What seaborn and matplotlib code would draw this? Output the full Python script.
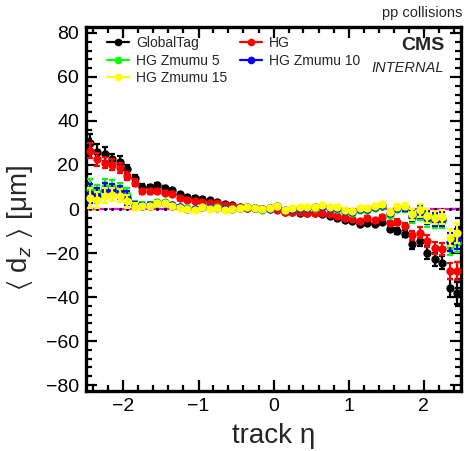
import numpy as np
import pandas as pd
import matplotlib
matplotlib.use("Agg")
import matplotlib.pyplot as plt
from matplotlib.lines import Line2D
from matplotlib.ticker import MultipleLocator
import seaborn as sns

# Track pseudorapidity bin centres
eta = [-2.45, -2.35, -2.25, -2.15, -2.05, -1.95, -1.85, -1.75, -1.65, -1.55,
       -1.45, -1.35, -1.25, -1.15, -1.05, -0.95, -0.85, -0.75, -0.65, -0.55,
       -0.45, -0.35, -0.25, -0.15, -0.05, 0.05, 0.15, 0.25, 0.35, 0.45,
       0.55, 0.65, 0.75, 0.85, 0.95, 1.05, 1.15, 1.25, 1.35, 1.45,
       1.55, 1.65, 1.75, 1.85, 1.95, 2.05, 2.15, 2.25, 2.35, 2.45]

# Mean longitudinal impact parameter <d_z> [um] per geometry
dz_globaltag = [30.0, 26.0, 25.0, 22.5, 21.5, 18.0, 14.0, 10.0, 10.0, 11.0,
                9.5, 8.5, 6.7, 5.5, 5.2, 4.4, 3.9, 3.3, 2.4, 1.8,
                0.9, 0.6, 0.4, 0.2, 0.3, -0.2, -1.5, -1.5, -1.8, -2.0,
                -2.0, -2.3, -3.0, -4.0, -5.0, -5.5, -6.6, -6.2, -6.7, -5.8,
                -9.2, -10.0, -11.2, -16.0, -14.5, -19.8, -22.9, -24.4, -35.8, -38.0]
dz_hg = [26.5, 22.5, 21.0, 20.0, 18.5, 15.0, 12.0, 8.0, 8.0, 8.2,
         7.4, 6.8, 5.0, 4.2, 3.6, 3.3, 2.9, 2.5, 1.8, 1.4,
         0.8, 0.4, 0.3, 0.1, 0.3, -0.3, -1.2, -1.2, -1.5, -1.7,
         -1.7, -1.7, -2.3, -3.2, -3.9, -4.7, -5.5, -4.2, -5.2, -3.6,
         -6.5, -5.9, -7.7, -12.0, -10.8, -14.5, -17.6, -18.3, -28.2, -28.2]
dz_zmumu5 = [9.0, 7.5, 10.0, 10.0, 9.0, 6.5, 2.0, 1.8, 2.0, 3.2,
             3.0, 2.0, 0.9, 0.4, 0.0, 1.0, 0.5, 0.7, 0.0, 0.2,
             0.6, 0.7, 0.4, -0.3, 0.2, 1.2, -0.6, 0.0, 0.3, 0.3,
             0.5, 1.2, 0.3, 0.2, -1.0, -1.6, -0.3, -0.5, 0.5, 1.2,
             -2.5, 0.0, 0.3, -4.0, -2.0, -5.0, -5.8, -5.5, -17.0, -15.0]
dz_zmumu10 = [7.0, 6.0, 8.5, 8.5, 7.5, 5.0, 1.5, 1.5, 1.7, 2.8,
              2.7, 1.7, 0.7, 0.2, -0.2, 0.9, 0.3, 0.6, -0.1, 0.1,
              0.6, 0.8, 0.4, -0.2, 0.2, 1.3, -0.4, 0.2, 0.5, 0.5,
              0.7, 1.5, 0.6, 0.5, -0.7, -1.2, 0.1, -0.1, 0.9, 1.6,
              -1.8, 0.5, 0.8, -3.0, -1.3, -4.0, -4.8, -4.5, -15.0, -13.5]
dz_zmumu15 = [5.0, 4.0, 6.0, 6.5, 6.0, 3.5, 1.0, 1.2, 1.4, 2.5,
              2.5, 1.5, 0.5, 0.0, -0.5, 0.8, 0.2, 0.5, -0.3, 0.0,
              0.6, 0.9, 0.5, -0.2, 0.3, 1.4, -0.3, 0.5, 0.8, 0.8,
              0.9, 1.8, 1.0, 0.9, -0.3, -0.9, 0.5, 0.3, 1.4, 2.1,
              -1.2, 1.0, 1.4, -2.4, -0.6, -3.2, -3.9, -3.6, -13.0, -10.8]
dz_ideal = [0.0] * 50

# Statistical uncertainties [um]
err_globaltag = [4.0, 3.5, 3.0, 2.5, 2.5, 2.0, 1.5, 1.2, 1.0, 1.0,
                 0.8, 0.8, 0.7, 0.6, 0.5, 0.5, 0.5, 0.5, 0.5, 0.5,
                 0.5, 0.5, 0.5, 0.5, 0.5, 0.5, 0.5, 0.5, 0.5, 0.5,
                 0.5, 0.5, 0.5, 0.5, 0.5, 0.6, 0.7, 0.8, 0.8, 1.0,
                 1.0, 1.2, 1.5, 2.0, 2.5, 3.0, 3.0, 3.0, 4.0, 5.0]
err_hg = [3.5, 3.0, 2.5, 2.5, 2.2, 2.0, 1.5, 1.2, 1.0, 1.0,
          0.8, 0.8, 0.7, 0.6, 0.5, 0.5, 0.5, 0.5, 0.5, 0.5,
          0.5, 0.5, 0.5, 0.5, 0.5, 0.5, 0.5, 0.5, 0.5, 0.5,
          0.5, 0.5, 0.5, 0.5, 0.5, 0.6, 0.7, 0.8, 0.8, 1.0,
          1.0, 1.2, 1.5, 2.0, 2.5, 2.8, 2.8, 2.8, 3.5, 4.0]
err_zmumu = [4.5, 3.5, 3.5, 3.0, 3.0, 3.0, 1.5, 1.2, 1.0, 1.0,
             0.8, 0.8, 0.7, 0.6, 0.5, 0.5, 0.5, 0.5, 0.5, 0.5,
             0.5, 0.5, 0.5, 0.5, 0.5, 0.5, 0.5, 0.5, 0.5, 0.5,
             0.5, 0.5, 0.5, 0.5, 0.5, 0.6, 0.7, 0.8, 0.8, 1.0,
             1.0, 1.2, 1.5, 2.5, 3.0, 3.0, 3.0, 3.0, 4.0, 4.5]

names = ["GlobalTag", "HG", "HG Zmumu 5", "HG Zmumu 10", "HG Zmumu 15"]
values = [dz_globaltag, dz_hg, dz_zmumu5, dz_zmumu10, dz_zmumu15]
errors = [err_globaltag, err_hg, err_zmumu, err_zmumu, err_zmumu]
colors = ["#000000", "#ff0000", "#00ff00", "#0000ff", "#ffff00"]

df = pd.DataFrame({
    "eta": np.tile(eta, len(names)),
    "dz": np.concatenate(values),
    "err": np.concatenate(errors),
    "geometry": np.repeat(names, len(eta)),
})

sns.set_theme(style="ticks")
plt.rcParams["font.family"] = ["Liberation Sans", "DejaVu Sans"]
plt.rcParams["mathtext.fontset"] = "custom"
plt.rcParams["mathtext.rm"] = "Liberation Sans"
plt.rcParams["mathtext.it"] = "Liberation Sans:italic"
plt.rcParams["mathtext.fallback"] = "stixsans"

fig = plt.figure(figsize=(4.65, 4.51), dpi=100)
ax = fig.add_axes([86 / 465, 1 - 391 / 451, (461 - 86) / 465, (391 - 27) / 451])

# zero reference drawn as horizontal bin-width bars
ax.errorbar(eta, dz_ideal, xerr=0.05, fmt="o", ms=1.2, mfc="black", mec="black",
            ecolor="#ff00ff", elinewidth=1.6, capsize=0, zorder=1)

for k, (name, col) in enumerate(zip(names, colors)):
    sub = df[df["geometry"] == name]
    ax.errorbar(sub["eta"], sub["dz"], yerr=sub["err"], fmt="none", ecolor=col,
                elinewidth=1.6, capsize=2.2, capthick=1.6, zorder=2 + 2 * k)
    sns.scatterplot(data=sub, x="eta", y="dz", color=col, s=36, linewidth=0,
                    legend=False, ax=ax, zorder=3 + 2 * k)

ax.set_xlim(-2.5, 2.5)
ax.set_ylim(-82.7, 82.7)
ax.xaxis.set_major_locator(MultipleLocator(1))
ax.xaxis.set_minor_locator(MultipleLocator(0.2))
ax.yaxis.set_major_locator(MultipleLocator(20))
ax.yaxis.set_minor_locator(MultipleLocator(4))
ax.tick_params(which="both", direction="in", top=True, right=True,
               width=1.6, color="black", labelsize=14, labelcolor="black")
ax.tick_params(which="major", length=8, pad=5)
ax.tick_params(which="minor", length=4)
for sp in ax.spines.values():
    sp.set_linewidth(2.4)
    sp.set_color("black")

ax.set_xlabel("track η", fontsize=20)
ax.xaxis.set_label_coords(0.5, -0.124)
ax.xaxis.label.set_va("center")
ax.set_ylabel(r"$\langle$ d$_{z}$ $\rangle$ [μm]", fontsize=20)
ax.yaxis.set_label_coords(-0.176, 0.448)
ax.yaxis.label.set_va("center")

handles = []
order = [0, 2, 4, 1, 3]
for i in order:
    handles.append(Line2D([], [], color=colors[i], lw=1.6, marker="o", ms=4.5))
ax.legend(handles, [names[i] for i in order], ncol=2, loc="upper left",
          bbox_to_anchor=(0.055, 0.975), frameon=False, fontsize=10,
          handlelength=1.6, handletextpad=0.5, columnspacing=0.9,
          labelspacing=0.25, borderpad=0, borderaxespad=0)

ax.text(0.957, 0.9505, "CMS", transform=ax.transAxes, ha="right", va="center",
        fontsize=14, fontweight="bold")
ax.text(0.955, 0.887, "INTERNAL", transform=ax.transAxes, ha="right", va="center",
        fontsize=10.5, fontstyle="italic")
fig.text(462 / 465, 1 - 13 / 451, "pp collisions", ha="right", va="center", fontsize=10.5)

fig.savefig("out.png", dpi=100)
